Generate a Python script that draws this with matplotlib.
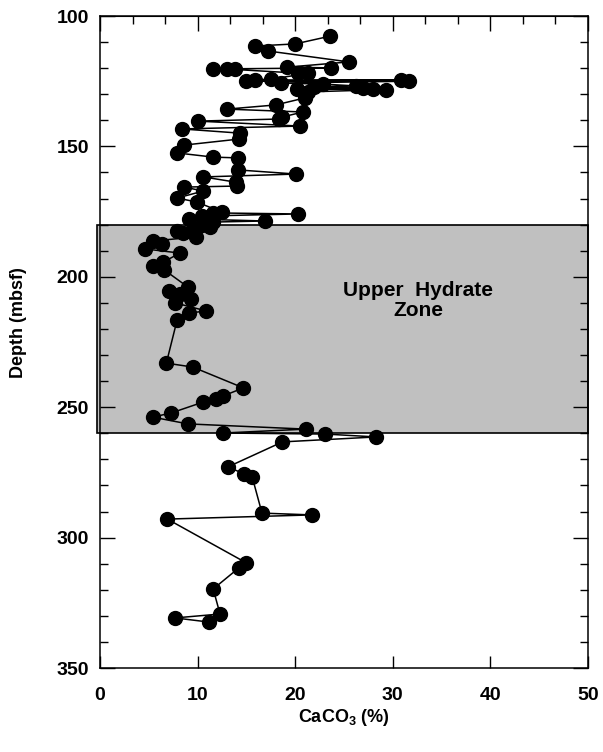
import matplotlib.pyplot as plt
from matplotlib.patches import Rectangle
from matplotlib.ticker import MultipleLocator

plt.rcParams['font.family'] = ['Liberation Sans', 'DejaVu Sans']
plt.rcParams['font.weight'] = 'bold'
plt.rcParams['mathtext.fontset'] = 'custom'
plt.rcParams['mathtext.rm'] = 'Liberation Sans:bold'
plt.rcParams['mathtext.bf'] = 'Liberation Sans:bold'

# CaCO3 (%) samples with depth (mbsf)
depth = [107.7, 110.7, 111.5, 113.4, 117.6, 119.6, 119.9, 120.3, 120.4, 120.5,
         121.9, 122.0, 124.2, 124.5, 124.6, 124.9, 125.0, 125.7, 126.1, 126.8,
         127.2, 127.6, 128.0, 128.1, 128.2, 129.1, 131.4, 134.1, 135.7, 136.8,
         138.7, 139.5, 140.3, 142.2, 143.3, 144.9, 147.2, 149.5, 152.5, 154.1,
         154.4, 159.0, 160.6, 161.7, 163.7, 165.2, 165.6, 167.1, 169.8, 171.3,
         175.2, 175.5, 175.9, 176.7, 177.8, 178.6, 179.0, 180.1, 180.9, 181.7,
         182.4, 183.2, 184.7, 186.3, 187.4, 189.3, 190.9, 194.3, 195.9, 197.4,
         203.9, 205.4, 206.6, 208.5, 210.0, 213.1, 213.9, 216.6, 233.1, 234.6,
         242.6, 245.7, 246.9, 248.0, 252.2, 253.8, 256.4, 258.4, 259.9, 260.3,
         261.4, 263.3, 272.9, 275.6, 276.8, 290.6, 291.3, 292.9, 309.7, 311.7,
         319.7, 329.3, 330.8, 332.4]
caco3 = [23.6, 20.0, 15.9, 17.2, 25.5, 19.2, 23.7, 11.6, 13.0, 13.8,
         20.3, 21.3, 17.5, 15.9, 30.8, 15.0, 31.7, 18.5, 22.8, 26.2,
         21.9, 26.9, 20.2, 28.0, 29.3, 21.3, 21.0, 18.0, 13.0, 20.8,
         18.7, 18.3, 10.0, 20.5, 8.4, 14.3, 14.2, 8.6, 7.9, 11.6,
         14.1, 14.1, 20.1, 10.6, 13.9, 14.0, 8.6, 10.6, 7.9, 9.9,
         12.5, 11.6, 20.3, 10.5, 9.1, 16.9, 11.6, 10.5, 11.3, 9.5,
         7.9, 8.5, 9.8, 5.4, 6.4, 4.6, 8.2, 6.5, 5.4, 6.6,
         9.0, 7.1, 8.2, 9.3, 7.7, 10.9, 9.1, 7.9, 6.8, 9.5,
         14.7, 12.6, 11.9, 10.6, 7.3, 5.4, 9.0, 21.1, 12.6, 23.1,
         28.3, 18.7, 13.1, 14.8, 15.6, 16.6, 21.7, 6.9, 15.0, 14.2,
         11.6, 12.3, 7.7, 11.2]

zone_top, zone_bottom = 180, 260

fig = plt.figure(figsize=(6.03, 7.52), dpi=100)
ax = fig.add_axes([0.1658, 0.1117, 0.8093, 0.867])

# shaded hydrate zone
ax.add_patch(Rectangle((-0.35, zone_top), 50.35, zone_bottom - zone_top,
                       facecolor='#c0c0c0', edgecolor='black', linewidth=1.2,
                       clip_on=False, zorder=1))
ax.text(32.6, 209, 'Upper  Hydrate\nZone', ha='center', va='center',
        fontsize=15, fontweight='bold', linespacing=1.05)

ax.plot(caco3, depth, color='black', linewidth=1.1, marker='o',
        markersize=10, zorder=3)

ax.set_xlim(0, 50)
ax.set_ylim(350, 100)

ax.xaxis.set_major_locator(MultipleLocator(10))
ax.yaxis.set_major_locator(MultipleLocator(50))
ax.yaxis.set_minor_locator(MultipleLocator(10))
ax.tick_params(axis='y', which='both', direction='in', left=True, right=True)
ax.tick_params(axis='y', which='major', length=11, width=1, pad=8, labelsize=14)
ax.tick_params(axis='y', which='minor', length=6, width=1)
ax.tick_params(axis='x', which='major', direction='in', top=False, length=9,
               width=1, pad=14, labelsize=14)
for lab in ax.get_xticklabels() + ax.get_yticklabels():
    lab.set_fontweight('bold')

# small ticks along the top edge
top = ax.secondary_xaxis('top')
top.xaxis.set_minor_locator(MultipleLocator(10 / 3))
top.xaxis.set_major_locator(MultipleLocator(10))
top.tick_params(which='both', direction='in', labeltop=False, width=1)
top.tick_params(which='major', length=11)
top.tick_params(which='minor', length=6)

for s in ax.spines.values():
    s.set_linewidth(1.1)

fig.text(19 / 603, 1 - 323 / 752, 'Depth (mbsf)', rotation=90, ha='center',
         va='center', fontsize=13, fontweight='bold')
fig.text(344 / 603, 1 - 718 / 752, r'CaCO$_{\mathbf{3}}$ (%)', ha='center',
         va='center', fontsize=13, fontweight='bold')

fig.savefig('out.png', dpi=100)
